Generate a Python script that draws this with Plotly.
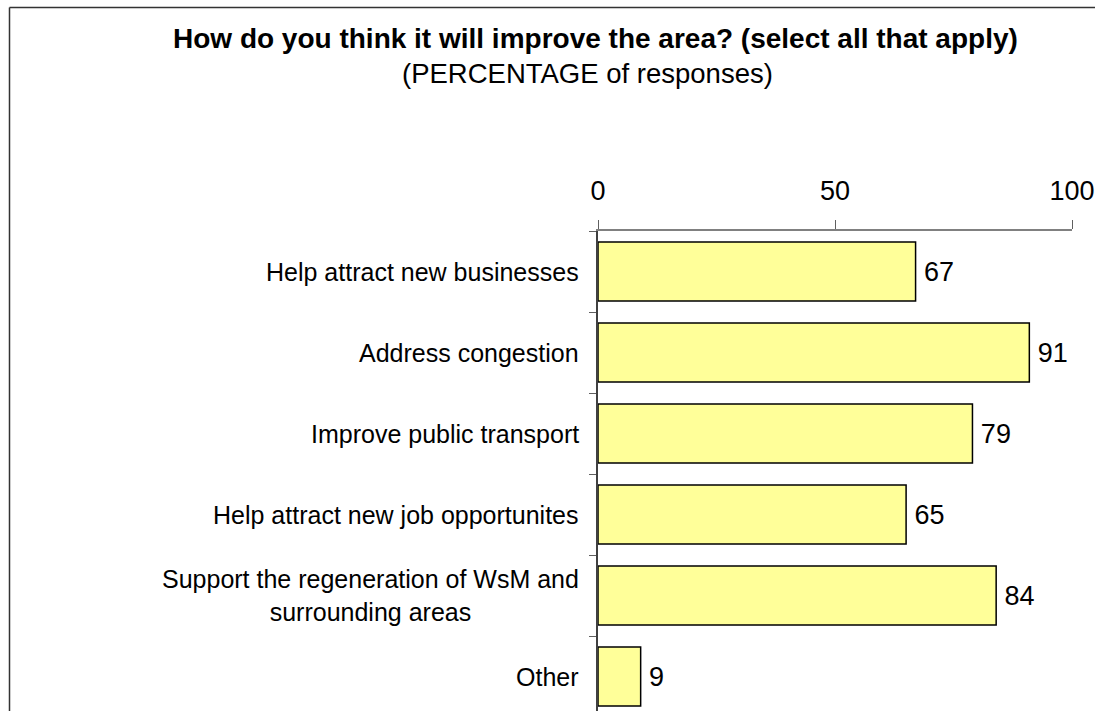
import plotly.graph_objects as go

categories = [
    "Help attract new businesses",
    "Address congestion",
    "Improve public transport",
    "Help attract new job opportunites",
    "Support the regeneration of WsM and<br>surrounding areas",
    "Other",
]
values = [67, 91, 79, 65, 84, 9]
x_ticks = [0, 50, 100]

title_text = "How do you think it will improve the area? (select all that apply)"
subtitle_text = "(PERCENTAGE of responses)"

FONT = "Liberation Sans, Arial, sans-serif"

fig = go.Figure()
fig.add_trace(go.Bar(
    y=categories,
    x=values,
    orientation="h",
    width=0.73,
    marker=dict(color="#FFFF99", line=dict(color="#000000", width=1.5)),
    text=values,
    texttemplate="\u2009%{x}",
    textposition="outside",
    textfont=dict(family=FONT, size=27, color="#000000"),
    cliponaxis=False,
    showlegend=False,
    hoverinfo="skip",
))

W, H = 1095, 711
L, R, T, B = 598, 23, 231, 0
plot_w = W - L - R
plot_h = H - T - B
cat_px = 81.0
n_vis = plot_h / cat_px

def px_to_paper_x(px):
    return (px - L) / plot_w

def px_to_paper_y(py):
    return 1 + (T - py) / plot_h

annotations = []
for c in categories:
    annotations.append(dict(
        x=px_to_paper_x(581), xref="paper", y=c, yref="y",
        text=c, showarrow=False, xanchor="right", yanchor="middle",
        align="center", font=dict(family=FONT, size=25, color="#000000"),
    ))
annotations.append(dict(
    x=px_to_paper_x(595), xref="paper", y=px_to_paper_y(38), yref="paper",
    text="<b>" + title_text + "</b>", showarrow=False, xanchor="center", yanchor="middle",
    font=dict(family=FONT, size=28, color="#000000"),
))
annotations.append(dict(
    x=px_to_paper_x(587), xref="paper", y=px_to_paper_y(73), yref="paper",
    text=subtitle_text, showarrow=False, xanchor="center", yanchor="middle",
    font=dict(family=FONT, size=27.5, color="#000000"),
))

frame_color = "#333333"
fig.update_layout(
    width=W, height=H,
    margin=dict(l=L, r=R, t=T, b=B, pad=0),
    paper_bgcolor="white",
    plot_bgcolor="white",
    font=dict(family=FONT, color="#000000"),
    annotations=annotations,
    bargap=0.27,
    shapes=[
        dict(type="line", xref="paper", yref="paper",
             x0=px_to_paper_x(9.5), x1=px_to_paper_x(1095), y0=px_to_paper_y(7.5), y1=px_to_paper_y(7.5),
             line=dict(color=frame_color, width=1.5), layer="above"),
        dict(type="line", xref="paper", yref="paper",
             x0=px_to_paper_x(9.5), x1=px_to_paper_x(9.5), y0=px_to_paper_y(7.5), y1=px_to_paper_y(711),
             line=dict(color=frame_color, width=1.5), layer="above"),
    ],
)

fig.update_xaxes(
    side="top", range=[0, 100], tickvals=x_ticks, ticktext=[str(t) for t in x_ticks],
    ticks="outside", ticklen=9, tickcolor="#606060", tickwidth=1,
    showline=True, linecolor="#808080", linewidth=1.5,
    showgrid=False, zeroline=False,
    tickfont=dict(family=FONT, size=27, color="#000000"),
    ticklabelstandoff=9,
)
fig.update_yaxes(
    type="category", categoryorder="array", categoryarray=categories,
    range=[-0.5 + n_vis, -0.5],
    tickson="boundaries", ticks="outside", ticklen=7, tickcolor="#606060",
    showline=True, linecolor="#404040", linewidth=1.5,
    showgrid=False, zeroline=False, showticklabels=False,
)

fig.write_html(
    "out.html",
    config={"displayModeBar": False},
    post_script="document.body.style.margin='0';document.body.style.overflow='hidden';",
)
